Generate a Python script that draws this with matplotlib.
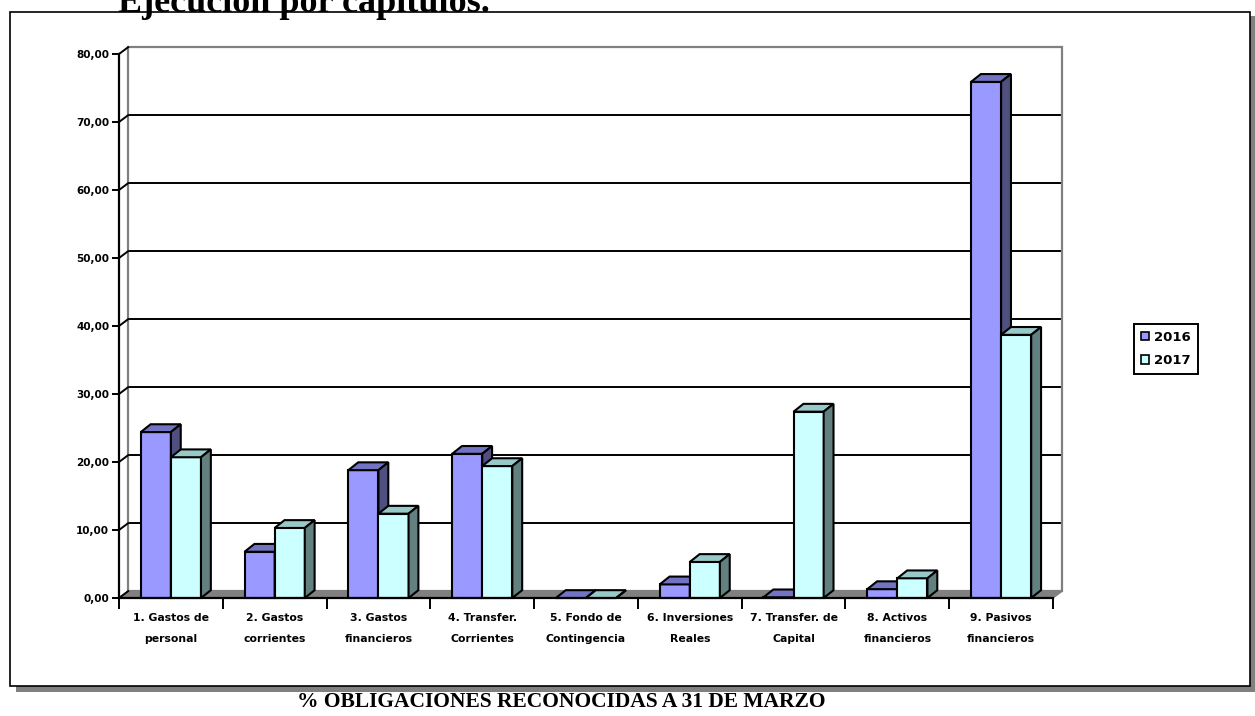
import numpy as np
import matplotlib.pyplot as plt
from matplotlib.patches import Polygon, Rectangle, Patch

# ------------------------------
# Datos
# ------------------------------
categorias = ["1. Gastos de\npersonal", "2. Gastos\ncorrientes", "3. Gastos\nfinancieros",
              "4. Transfer.\nCorrientes", "5. Fondo de\nContingencia", "6. Inversiones\nReales",
              "7. Transfer. de\nCapital", "8. Activos\nfinancieros", "9. Pasivos\nfinancieros"]
v2016 = [24.4, 6.8, 18.8, 21.2, 0.0, 2.0, 0.1, 1.3, 75.9]
v2017 = [20.7, 10.3, 12.4, 19.4, 0.0, 5.3, 27.4, 2.9, 38.7]
series = ["2016", "2017"]
y_ticks = [0, 10, 20, 30, 40, 50, 60, 70, 80]

# colores: frente, techo, lateral
col = {
    "2016": ("#9999FF", "#7373C4", "#4F4F80"),
    "2017": ("#CCFFFF", "#99C8C8", "#628080"),
}

W, H = 1255, 716
fig = plt.figure(figsize=(W / 100, H / 100), dpi=100)

# marco del gráfico con sombra
fig.add_artist(Rectangle((16 / W, 1 - 692 / H), 1240 / W, 676 / H, transform=fig.transFigure,
                         facecolor="#808080", edgecolor="none", zorder=-2))
fig.add_artist(Rectangle((10 / W, 1 - 686 / H), 1240 / W, 674 / H, transform=fig.transFigure,
                         facecolor="white", edgecolor="black", lw=1.2, zorder=-1))

ax = fig.add_axes([119 / W, 1 - 598 / H, (1053 - 119) / W, (598 - 54) / H])
ax.set_zorder(1)
ax.set_xlim(0, 9)
ax.set_ylim(0, 80)
ax.patch.set_visible(False)
for s in ["top", "right"]:
    ax.spines[s].set_visible(False)
for s in ["left", "bottom"]:
    ax.spines[s].set_linewidth(1.6)
    ax.spines[s].set_zorder(6)

n = len(categorias)
dx, dy = 0.088, 1.0     # profundidad 3D (pared)
bdx, bdy = 0.095, 1.15  # profundidad de las barras
w = 0.29

# pared del fondo, suelo y rejilla
for t in y_ticks[1:-1]:
    ax.plot([dx, n + dx], [t + dy, t + dy], color="black", lw=1.4, zorder=1, clip_on=False)
ax.add_patch(Rectangle((dx, dy), n, 80, facecolor="none", edgecolor="#808080", lw=1.6,
                       zorder=1.5, clip_on=False))
ax.add_patch(Polygon([(0, 0), (n, 0), (n + dx, dy), (dx, dy)], closed=True,
                     facecolor="#808080", edgecolor="#808080", lw=1, zorder=2, clip_on=False))
for t in y_ticks:
    ax.plot([0, dx], [t, t + dy], color="black", lw=1.4, zorder=6, clip_on=False)

# barras pseudo-3D
for i in range(n):
    for k, (name, vals) in enumerate(zip(series, [v2016, v2017])):
        front, top, side = col[name]
        x0 = i + 0.5 - w + k * w
        x1 = x0 + w
        h = vals[i]
        z = 3 + k * 0.1
        ax.add_patch(Polygon([(x0, 0), (x1, 0), (x1, h), (x0, h)], closed=True,
                             facecolor=front, edgecolor="black", lw=1.5, zorder=z, clip_on=False))
        ax.add_patch(Polygon([(x0, h), (x1, h), (x1 + bdx, h + bdy), (x0 + bdx, h + bdy)], closed=True,
                             facecolor=top, edgecolor="black", lw=1.5, zorder=z, clip_on=False))
        ax.add_patch(Polygon([(x1, 0), (x1 + bdx, bdy), (x1 + bdx, h + bdy), (x1, h)], closed=True,
                             facecolor=side, edgecolor="black", lw=1.5, zorder=z, clip_on=False))

# ejes
ax.set_yticks(y_ticks)
ax.set_yticklabels([f"{t:.2f}".replace(".", ",") for t in y_ticks], fontsize=7.5, fontweight="bold")
ax.tick_params(axis="y", direction="out", length=5, width=1.4, pad=2)
ax.set_xticks(np.arange(n + 1))
ax.set_xticklabels([])
ax.tick_params(axis="x", which="major", direction="out", length=8, width=1.4)
ax.set_xticks(np.arange(n) + 0.5, minor=True)
ax.set_xticklabels(categorias, minor=True, fontsize=7.8, fontweight="bold", linespacing=2.3)
ax.tick_params(axis="x", which="minor", length=0, pad=11)

# leyenda
handles = [Patch(facecolor=col[s][0], edgecolor="black", lw=1.2, label=s) for s in series]
leg = fig.legend(handles=handles, loc="center", bbox_to_anchor=(1166 / W, 1 - 349 / H),
                 frameon=True, fancybox=False, edgecolor="black", framealpha=1,
                 prop={"weight": "bold", "size": 9.5}, handlelength=0.6, handleheight=0.6,
                 handletextpad=0.4, borderpad=0.5, labelspacing=0.8)
leg.get_frame().set_linewidth(1.4)
leg.set_zorder(5)

# títulos
fig.text(118 / W, 1 - 12 / H, "Ejecución por capítulos.", fontsize=26, fontweight="bold",
         family="Liberation Serif", ha="left", va="baseline", zorder=3)
fig.text(561 / W, 1 - 702 / H, "% OBLIGACIONES RECONOCIDAS A 31 DE MARZO", fontsize=15.5,
         fontweight="bold", family="Liberation Serif", ha="center", va="center")

fig.savefig("out.png", dpi=100)
